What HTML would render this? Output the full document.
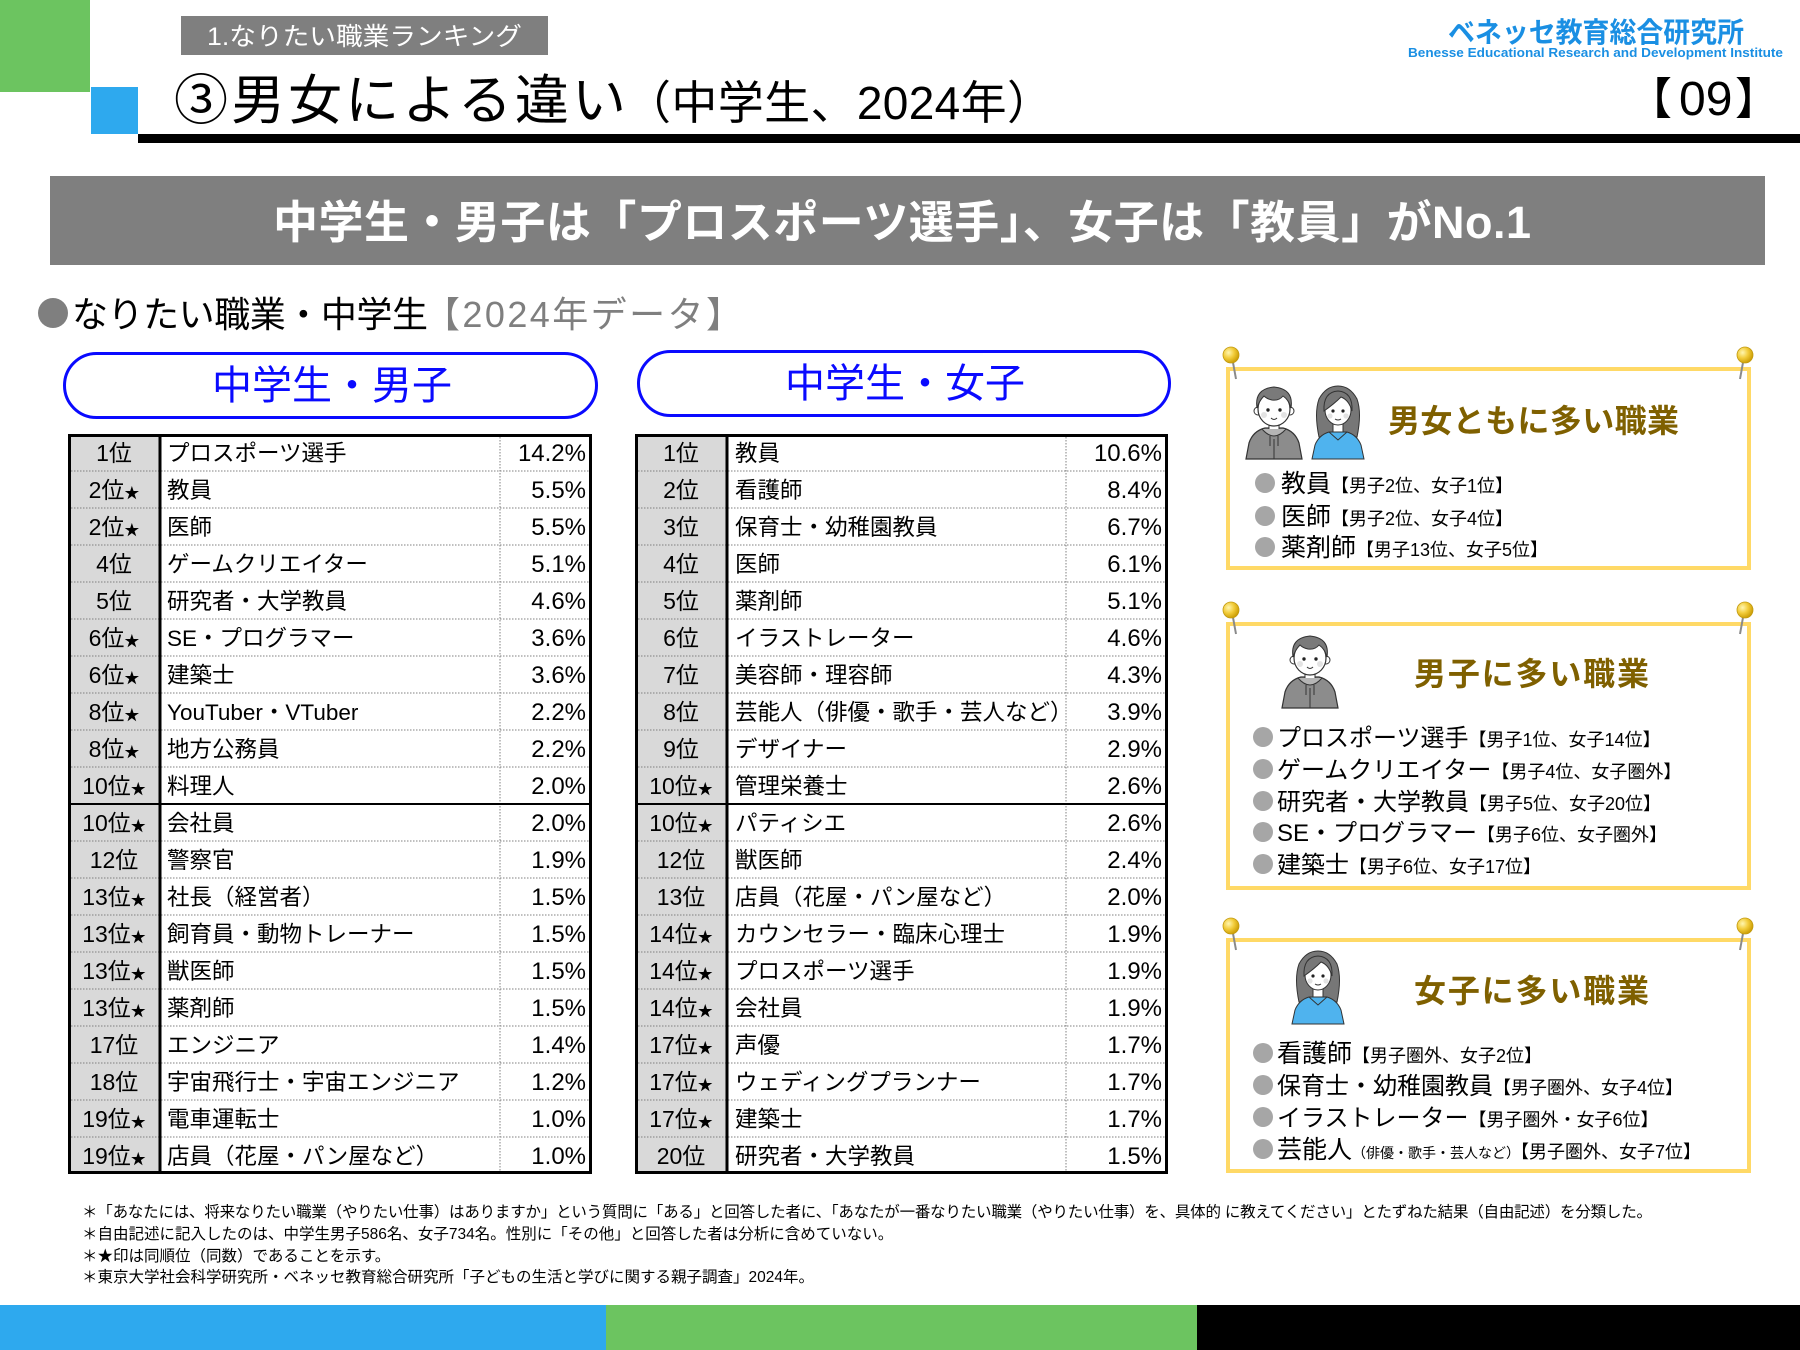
<!DOCTYPE html>
<html><head><meta charset="utf-8">
<style>
html,body{margin:0;padding:0;background:#fff;}
svg{display:block;}
text{font-family:"Liberation Sans","Noto Sans CJK JP",sans-serif;fill:#000;}
.r{font-size:23px;text-anchor:middle;}
.j{font-size:22.5px;}
.p{font-size:24px;text-anchor:end;}
.s{font-size:15px;}
.dl{stroke:#808080;stroke-width:1;stroke-dasharray:1.5 1.5;fill:none;}
.bt{font-size:32px;font-weight:700;fill:#7f6000;}
.it{font-size:24px;}
.sm{font-size:18px;}
.fn{font-size:15.5px;}
</style></head>
<body>
<svg width="1800" height="1350" viewBox="0 0 1800 1350" xmlns="http://www.w3.org/2000/svg">
<defs>
  <radialGradient id="pg" cx="0.35" cy="0.35" r="0.7">
    <stop offset="0" stop-color="#fff6b0"/>
    <stop offset="0.5" stop-color="#f2cc3a"/>
    <stop offset="1" stop-color="#c99a00"/>
  </radialGradient>
  <g id="pinL">
    <line x1="1" y1="2" x2="5" y2="24" stroke="#8a8a8a" stroke-width="2"/>
    <circle cx="0" cy="0" r="8" fill="url(#pg)" stroke="#c29a10" stroke-width="0.8"/>
  </g>
  <g id="pinR">
    <line x1="-1" y1="2" x2="-5" y2="24" stroke="#8a8a8a" stroke-width="2"/>
    <circle cx="0" cy="0" r="8" fill="url(#pg)" stroke="#c29a10" stroke-width="0.8"/>
  </g>
  <g id="boy">
    <path d="M1 76 L4 60 Q8 48 20 45 L38 45 Q50 48 54 60 L57 76 Z" fill="#8c8c8c" stroke="#333" stroke-width="1.2"/>
    <rect x="24" y="38" width="10" height="10" fill="#fff" stroke="#333"/>
    <path d="M17 46 Q29 60 41 46" fill="#b5b5b5" stroke="#333"/>
    <line x1="25" y1="53" x2="25" y2="63" stroke="#333"/>
    <line x1="33" y1="53" x2="33" y2="63" stroke="#333"/>
    <line x1="29" y1="56" x2="29" y2="76" stroke="#333"/>
    <circle cx="13" cy="28" r="4" fill="#fff" stroke="#333"/>
    <circle cx="45" cy="28" r="4" fill="#fff" stroke="#333"/>
    <ellipse cx="29" cy="26" rx="16" ry="17" fill="#fff" stroke="#333" stroke-width="1.2"/>
    <path d="M12 25 Q9 6 29 4 Q49 6 46 25 Q44 17 38 13 Q34 18 27 17 Q22 16 19 13 Q14 18 12 25 Z" fill="#7a7a7a" stroke="#333"/>
    <circle cx="23" cy="27" r="1.7" fill="#222"/>
    <circle cx="35" cy="27" r="1.7" fill="#222"/>
    <circle cx="19" cy="32" r="3" fill="#e3e3e3"/>
    <circle cx="39" cy="32" r="3" fill="#e3e3e3"/>
    <path d="M26 35 Q29 38 32 35" fill="none" stroke="#333"/>
  </g>
  <g id="girl">
    <path d="M7 54 Q2 30 7 16 Q14 3 26 3 Q38 3 45 16 Q50 30 45 54 Z" fill="#777" stroke="#333"/>
    <rect x="21" y="38" width="10" height="12" fill="#fff" stroke="#333"/>
    <path d="M0 76 L3 62 Q7 52 17 49 L35 49 Q45 52 49 62 L52 76 Z" fill="#4fb3ee" stroke="#333"/>
    <path d="M17 49 L26 57 L35 49" fill="none" stroke="#333"/>
    <ellipse cx="26" cy="27" rx="13" ry="15" fill="#fff" stroke="#333"/>
    <path d="M12 28 Q11 9 26 8 Q41 9 40 28 Q37 17 29 14 Q22 21 12 28 Z" fill="#777" stroke="#333"/>
    <circle cx="21" cy="28" r="1.6" fill="#222"/>
    <circle cx="31" cy="28" r="1.6" fill="#222"/>
    <circle cx="18" cy="33" r="2.6" fill="#e3e3e3"/>
    <circle cx="34" cy="33" r="2.6" fill="#e3e3e3"/>
    <path d="M23 36 Q26 38 29 36" fill="none" stroke="#333"/>
  </g>
</defs>

<!-- Header -->
<rect x="0" y="0" width="90" height="92" fill="#6cc460"/>
<rect x="91" y="87" width="47" height="47" fill="#2ea9ee"/>
<rect x="138" y="134" width="1662" height="9" fill="#000"/>
<rect x="181" y="16" width="367" height="39" fill="#7f7f7f"/>
<text x="207" y="45" font-size="25" style="fill:#fff" textLength="315" lengthAdjust="spacingAndGlyphs">1.なりたい職業ランキング</text>

<text x="174" y="119" font-size="54" textLength="452" lengthAdjust="spacing">③男女による違い</text>
<text x="625" y="119" font-size="46" textLength="428" lengthAdjust="spacing">（中学生、2024年）</text>

<text x="1628" y="114" font-size="44">【</text>
<text x="1679" y="115" font-size="48">09</text>
<text x="1735" y="114" font-size="44">】</text>

<text x="1448" y="42" font-size="28" font-weight="700" style="fill:#1a8fe3" textLength="296" lengthAdjust="spacingAndGlyphs">ベネッセ教育総合研究所</text>
<text x="1408" y="57" font-size="12.5" font-weight="700" style="fill:#1a8fe3" textLength="375" lengthAdjust="spacingAndGlyphs">Benesse Educational Research and Development Institute</text>

<!-- Banner -->
<rect x="50" y="176" width="1715" height="89" fill="#7f7f7f"/>
<text x="273" y="238" font-size="45" font-weight="700" style="fill:#fff" textLength="1258" lengthAdjust="spacing">中学生・男子は「プロスポーツ選手」、女子は「教員」がNo.1</text>

<!-- Subtitle -->
<circle cx="53" cy="313" r="15" fill="#7f7f7f"/>
<text x="72" y="327" font-size="36" textLength="356" lengthAdjust="spacing">なりたい職業・中学生</text>
<text x="424" y="327" font-size="36" style="fill:#7f7f7f" textLength="318" lengthAdjust="spacing">【2024年データ】</text>

<!-- Pills -->
<rect x="64.5" y="353.5" width="532" height="64" rx="32" fill="#fff" stroke="#0a0aff" stroke-width="3"/>
<text x="332" y="399" font-size="40" text-anchor="middle" style="fill:#0a0aff">中学生・男子</text>
<rect x="638.5" y="351.5" width="531" height="64" rx="32" fill="#fff" stroke="#0a0aff" stroke-width="3"/>
<text x="905" y="397" font-size="40" text-anchor="middle" style="fill:#0a0aff">中学生・女子</text>

<!-- Boy table -->
<rect x="68" y="434" width="92" height="740" fill="#d9d9d9"/>
<path class="dl" d="M68 471H592M68 508H592M68 545H592M68 582H592M68 619H592M68 656H592M68 693H592M68 730H592M68 767H592M68 841H592M68 878H592M68 915H592M68 952H592M68 989H592M68 1026H592M68 1063H592M68 1100H592M68 1137H592M500 434V1174"/>
<line x1="68" y1="804" x2="592" y2="804" stroke="#000" stroke-width="2"/>
<line x1="160" y1="434" x2="160" y2="1174" stroke="#000" stroke-width="3"/>
<rect x="69.5" y="435.5" width="521" height="737" fill="none" stroke="#000" stroke-width="3"/>

<text class="r" x="114" y="461">1位</text><text class="j" x="167" y="461">プロスポーツ選手</text><text class="p" x="586" y="461">14.2%</text>
<text class="r" x="114" y="498">2位<tspan class="s">★</tspan></text><text class="j" x="167" y="498">教員</text><text class="p" x="586" y="498">5.5%</text>
<text class="r" x="114" y="535">2位<tspan class="s">★</tspan></text><text class="j" x="167" y="535">医師</text><text class="p" x="586" y="535">5.5%</text>
<text class="r" x="114" y="572">4位</text><text class="j" x="167" y="572">ゲームクリエイター</text><text class="p" x="586" y="572">5.1%</text>
<text class="r" x="114" y="609">5位</text><text class="j" x="167" y="609">研究者・大学教員</text><text class="p" x="586" y="609">4.6%</text>
<text class="r" x="114" y="646">6位<tspan class="s">★</tspan></text><text class="j" x="167" y="646">SE・プログラマー</text><text class="p" x="586" y="646">3.6%</text>
<text class="r" x="114" y="683">6位<tspan class="s">★</tspan></text><text class="j" x="167" y="683">建築士</text><text class="p" x="586" y="683">3.6%</text>
<text class="r" x="114" y="720">8位<tspan class="s">★</tspan></text><text class="j" x="167" y="720">YouTuber・VTuber</text><text class="p" x="586" y="720">2.2%</text>
<text class="r" x="114" y="757">8位<tspan class="s">★</tspan></text><text class="j" x="167" y="757">地方公務員</text><text class="p" x="586" y="757">2.2%</text>
<text class="r" x="114" y="794">10位<tspan class="s">★</tspan></text><text class="j" x="167" y="794">料理人</text><text class="p" x="586" y="794">2.0%</text>
<text class="r" x="114" y="831">10位<tspan class="s">★</tspan></text><text class="j" x="167" y="831">会社員</text><text class="p" x="586" y="831">2.0%</text>
<text class="r" x="114" y="868">12位</text><text class="j" x="167" y="868">警察官</text><text class="p" x="586" y="868">1.9%</text>
<text class="r" x="114" y="905">13位<tspan class="s">★</tspan></text><text class="j" x="167" y="905">社長（経営者）</text><text class="p" x="586" y="905">1.5%</text>
<text class="r" x="114" y="942">13位<tspan class="s">★</tspan></text><text class="j" x="167" y="942">飼育員・動物トレーナー</text><text class="p" x="586" y="942">1.5%</text>
<text class="r" x="114" y="979">13位<tspan class="s">★</tspan></text><text class="j" x="167" y="979">獣医師</text><text class="p" x="586" y="979">1.5%</text>
<text class="r" x="114" y="1016">13位<tspan class="s">★</tspan></text><text class="j" x="167" y="1016">薬剤師</text><text class="p" x="586" y="1016">1.5%</text>
<text class="r" x="114" y="1053">17位</text><text class="j" x="167" y="1053">エンジニア</text><text class="p" x="586" y="1053">1.4%</text>
<text class="r" x="114" y="1090">18位</text><text class="j" x="167" y="1090">宇宙飛行士・宇宙エンジニア</text><text class="p" x="586" y="1090">1.2%</text>
<text class="r" x="114" y="1127">19位<tspan class="s">★</tspan></text><text class="j" x="167" y="1127">電車運転士</text><text class="p" x="586" y="1127">1.0%</text>
<text class="r" x="114" y="1164">19位<tspan class="s">★</tspan></text><text class="j" x="167" y="1164">店員（花屋・パン屋など）</text><text class="p" x="586" y="1164">1.0%</text>

<!-- Girl table -->
<rect x="635" y="434" width="92" height="740" fill="#d9d9d9"/>
<path class="dl" d="M635 471H1168M635 508H1168M635 545H1168M635 582H1168M635 619H1168M635 656H1168M635 693H1168M635 730H1168M635 767H1168M635 841H1168M635 878H1168M635 915H1168M635 952H1168M635 989H1168M635 1026H1168M635 1063H1168M635 1100H1168M635 1137H1168M1066 434V1174"/>
<line x1="635" y1="804" x2="1168" y2="804" stroke="#000" stroke-width="2"/>
<line x1="727" y1="434" x2="727" y2="1174" stroke="#000" stroke-width="3"/>
<rect x="636.5" y="435.5" width="530" height="737" fill="none" stroke="#000" stroke-width="3"/>

<text class="r" x="681" y="461">1位</text><text class="j" x="735" y="461">教員</text><text class="p" x="1162" y="461">10.6%</text>
<text class="r" x="681" y="498">2位</text><text class="j" x="735" y="498">看護師</text><text class="p" x="1162" y="498">8.4%</text>
<text class="r" x="681" y="535">3位</text><text class="j" x="735" y="535">保育士・幼稚園教員</text><text class="p" x="1162" y="535">6.7%</text>
<text class="r" x="681" y="572">4位</text><text class="j" x="735" y="572">医師</text><text class="p" x="1162" y="572">6.1%</text>
<text class="r" x="681" y="609">5位</text><text class="j" x="735" y="609">薬剤師</text><text class="p" x="1162" y="609">5.1%</text>
<text class="r" x="681" y="646">6位</text><text class="j" x="735" y="646">イラストレーター</text><text class="p" x="1162" y="646">4.6%</text>
<text class="r" x="681" y="683">7位</text><text class="j" x="735" y="683">美容師・理容師</text><text class="p" x="1162" y="683">4.3%</text>
<text class="r" x="681" y="720">8位</text><text class="j" x="735" y="720">芸能人（俳優・歌手・芸人など）</text><text class="p" x="1162" y="720">3.9%</text>
<text class="r" x="681" y="757">9位</text><text class="j" x="735" y="757">デザイナー</text><text class="p" x="1162" y="757">2.9%</text>
<text class="r" x="681" y="794">10位<tspan class="s">★</tspan></text><text class="j" x="735" y="794">管理栄養士</text><text class="p" x="1162" y="794">2.6%</text>
<text class="r" x="681" y="831">10位<tspan class="s">★</tspan></text><text class="j" x="735" y="831">パティシエ</text><text class="p" x="1162" y="831">2.6%</text>
<text class="r" x="681" y="868">12位</text><text class="j" x="735" y="868">獣医師</text><text class="p" x="1162" y="868">2.4%</text>
<text class="r" x="681" y="905">13位</text><text class="j" x="735" y="905">店員（花屋・パン屋など）</text><text class="p" x="1162" y="905">2.0%</text>
<text class="r" x="681" y="942">14位<tspan class="s">★</tspan></text><text class="j" x="735" y="942">カウンセラー・臨床心理士</text><text class="p" x="1162" y="942">1.9%</text>
<text class="r" x="681" y="979">14位<tspan class="s">★</tspan></text><text class="j" x="735" y="979">プロスポーツ選手</text><text class="p" x="1162" y="979">1.9%</text>
<text class="r" x="681" y="1016">14位<tspan class="s">★</tspan></text><text class="j" x="735" y="1016">会社員</text><text class="p" x="1162" y="1016">1.9%</text>
<text class="r" x="681" y="1053">17位<tspan class="s">★</tspan></text><text class="j" x="735" y="1053">声優</text><text class="p" x="1162" y="1053">1.7%</text>
<text class="r" x="681" y="1090">17位<tspan class="s">★</tspan></text><text class="j" x="735" y="1090">ウェディングプランナー</text><text class="p" x="1162" y="1090">1.7%</text>
<text class="r" x="681" y="1127">17位<tspan class="s">★</tspan></text><text class="j" x="735" y="1127">建築士</text><text class="p" x="1162" y="1127">1.7%</text>
<text class="r" x="681" y="1164">20位</text><text class="j" x="735" y="1164">研究者・大学教員</text><text class="p" x="1162" y="1164">1.5%</text>

<!-- Right boxes -->
<rect x="1228" y="369" width="521" height="199" fill="#fff" stroke="#ffd966" stroke-width="4"/>
<use href="#pinL" x="1231" y="355"/>
<use href="#pinR" x="1745" y="355"/>
<use href="#boy" x="1245" y="383"/>
<use href="#girl" x="1312" y="383"/>
<text class="bt" x="1388" y="432" textLength="291" lengthAdjust="spacing">男女ともに多い職業</text>
<circle cx="1265" cy="483" r="10" fill="#a6a6a6"/>
<circle cx="1265" cy="516" r="10" fill="#a6a6a6"/>
<circle cx="1265" cy="547" r="10" fill="#a6a6a6"/>
<text class="it" x="1281" y="492" style="font-size:25px">教員<tspan class="sm">【男子2位、女子1位】</tspan></text>
<text class="it" x="1281" y="525" style="font-size:25px">医師<tspan class="sm">【男子2位、女子4位】</tspan></text>
<text class="it" x="1281" y="556" style="font-size:25px">薬剤師<tspan class="sm">【男子13位、女子5位】</tspan></text>

<rect x="1228" y="624" width="521" height="264" fill="#fff" stroke="#ffd966" stroke-width="4"/>
<use href="#pinL" x="1231" y="610"/>
<use href="#pinR" x="1745" y="610"/>
<use href="#boy" x="1281" y="632"/>
<text class="bt" x="1414" y="685" textLength="235" lengthAdjust="spacing">男子に多い職業</text>
<circle cx="1263" cy="737" r="10" fill="#a6a6a6"/>
<circle cx="1263" cy="769" r="10" fill="#a6a6a6"/>
<circle cx="1263" cy="801" r="10" fill="#a6a6a6"/>
<circle cx="1263" cy="832" r="10" fill="#a6a6a6"/>
<circle cx="1263" cy="864" r="10" fill="#a6a6a6"/>
<text class="it" x="1277" y="746">プロスポーツ選手<tspan class="sm">【男子1位、女子14位】</tspan></text>
<text class="it" x="1277" y="778">ゲームクリエイター<tspan class="sm">【男子4位、女子圏外】</tspan></text>
<text class="it" x="1277" y="810">研究者・大学教員<tspan class="sm">【男子5位、女子20位】</tspan></text>
<text class="it" x="1277" y="841">SE・プログラマー<tspan class="sm">【男子6位、女子圏外】</tspan></text>
<text class="it" x="1277" y="873">建築士<tspan class="sm">【男子6位、女子17位】</tspan></text>

<rect x="1228" y="940" width="521" height="231" fill="#fff" stroke="#ffd966" stroke-width="4"/>
<use href="#pinL" x="1231" y="926"/>
<use href="#pinR" x="1745" y="926"/>
<use href="#girl" x="1292" y="948"/>
<text class="bt" x="1414" y="1002" textLength="235" lengthAdjust="spacing">女子に多い職業</text>
<circle cx="1263" cy="1053" r="10" fill="#a6a6a6"/>
<circle cx="1263" cy="1085" r="10" fill="#a6a6a6"/>
<circle cx="1263" cy="1117" r="10" fill="#a6a6a6"/>
<circle cx="1263" cy="1149" r="10" fill="#a6a6a6"/>
<text class="it" x="1277" y="1062" style="font-size:25px">看護師<tspan class="sm">【男子圏外、女子2位】</tspan></text>
<text class="it" x="1277" y="1094">保育士・幼稚園教員<tspan class="sm">【男子圏外、女子4位】</tspan></text>
<text class="it" x="1277" y="1126">イラストレーター<tspan class="sm">【男子圏外・女子6位】</tspan></text>
<text class="it" x="1277" y="1158" style="font-size:25px">芸能人<tspan style="font-size:14px">（俳優・歌手・芸人など）</tspan><tspan class="sm">【男子圏外、女子7位】</tspan></text>

<!-- Footnotes -->
<text class="fn" x="82" y="1217" textLength="1570" lengthAdjust="spacing">＊「あなたには、将来なりたい職業（やりたい仕事）はありますか」という質問に「ある」と回答した者に、「あなたが一番なりたい職業（やりたい仕事）を、具体的 に教えてください」とたずねた結果（自由記述）を分類した。</text>
<text class="fn" x="82" y="1239">＊自由記述に記入したのは、中学生男子586名、女子734名。性別に「その他」と回答した者は分析に含めていない。</text>
<text class="fn" x="82" y="1261">＊★印は同順位（同数）であることを示す。</text>
<text class="fn" x="82" y="1282">＊東京大学社会科学研究所・ベネッセ教育総合研究所「子どもの生活と学びに関する親子調査」2024年。</text>

<!-- Bottom bar -->
<rect x="0" y="1305" width="606" height="45" fill="#2ea9ee"/>
<rect x="606" y="1305" width="591" height="45" fill="#6cc460"/>
<rect x="1197" y="1305" width="603" height="45" fill="#000"/>
</svg>
</body></html>
